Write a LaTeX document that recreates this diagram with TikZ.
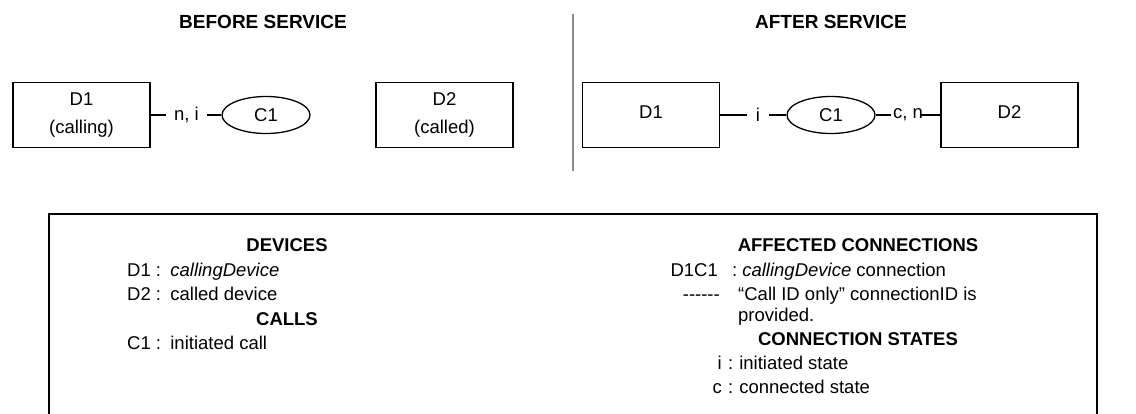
\documentclass[tikz,border=0pt]{standalone}
\usepackage{fontspec}
\setmainfont{Liberation Sans}
\usepackage{xcolor}
\usetikzlibrary{shapes.geometric, positioning}
\definecolor{divgray}{RGB}{140,140,140}

\begin{document}
\begin{tikzpicture}[
    x=1pt, y=-1pt,
    every node/.style={font=\fontsize{18.5}{24}\selectfont, inner sep=0pt},
    devbox/.style={rectangle, draw=black, line width=1.8pt, minimum width=137pt, minimum height=65pt, align=center, font=\fontsize{18.5}{28}\selectfont},
    callell/.style={ellipse, draw=black, line width=1.3pt, minimum width=88pt, minimum height=37pt},
    statelbl/.style={inner xsep=8pt, inner ysep=2pt},
    conn/.style={line width=1.3pt},
    title/.style={font=\fontsize{19}{24}\selectfont\bfseries},
    head/.style={anchor=base, font=\fontsize{18.5}{24}\selectfont\bfseries},
    key/.style={anchor=base east},
    entry/.style={anchor=base west},
    divider/.style={draw=divgray, line width=1.8pt},
    legendbox/.style={draw=black, line width=2.2pt}
]
    \useasboundingbox (0,0) rectangle (1136,414);

    % before service
    \node[title] (tbefore) at (263,22) {BEFORE SERVICE};
    \node[devbox] (d1b) at (81.5,115) {D1\\(calling)};
    \node[statelbl] (nib) at (186.5,115) {n, i};
    \node[callell] (c1b) at (266,115) {C1};
    \node[devbox] (d2b) at (444.5,115) {D2\\(called)};
    \draw[conn] (d1b) -- (nib) -- (c1b);

    \draw[divider] (573,14) -- (573,171);

    % after service
    \node[title] (tafter) at (831,22) {AFTER SERVICE};
    \node[devbox] (d1a) at (651,115) {\raisebox{6pt}{D1}};
    \node[statelbl, inner xsep=9pt] (ia) at (758,115) {i};
    \node[callell] (c1a) at (831,115) {C1};
    \node[statelbl, inner xsep=2pt] (cna) at (908,115) {c, n};
    \node[devbox] (d2a) at (1009.5,115) {\raisebox{6pt}{D2}};
    \draw[conn] (d1a) -- (ia) -- (c1a) -- (cna);
    \draw[conn] ([xshift=-5pt]cna.east) -- (d2a);

    % legend
    \draw[legendbox] (49,214) rectangle (1097,440);
    \node[head] (hdev) at (287,252) {DEVICES};
    \node[entry] (ld1) at (127,277) {D1 :\enspace\textit{callingDevice}};
    \node[entry] (ld2) at (127,301) {D2 :\enspace called device};
    \node[head] (hcall) at (287,325) {CALLS};
    \node[entry] (lc1) at (127,349) {C1 :\enspace initiated call};

    \node[head] (hconn) at (858,252) {AFFECTED CONNECTIONS};
    \node[key] (kd1c1) at (718,277) {D1C1};
    \node[entry] (ed1c1) at (732,277) {:\kern5pt\textit{callingDevice} connection};
    \node[key] (kdash) at (720,301) {{-}{-}{-}{-}{-}{-}};
    \node[entry] (edash) at (738,301) {“Call ID only” connectionID is};
    \node[entry] (edash2) at (738,322) {provided.};
    \node[head] (hstate) at (858,345) {CONNECTION STATES};
    \node[key] (ki) at (722,369) {i};
    \node[entry] (ei) at (728,369) {:\kern6pt initiated state};
    \node[key] (kc) at (722,393) {c};
    \node[entry] (ec) at (728,393) {:\kern6pt connected state};
\end{tikzpicture}
\end{document}
